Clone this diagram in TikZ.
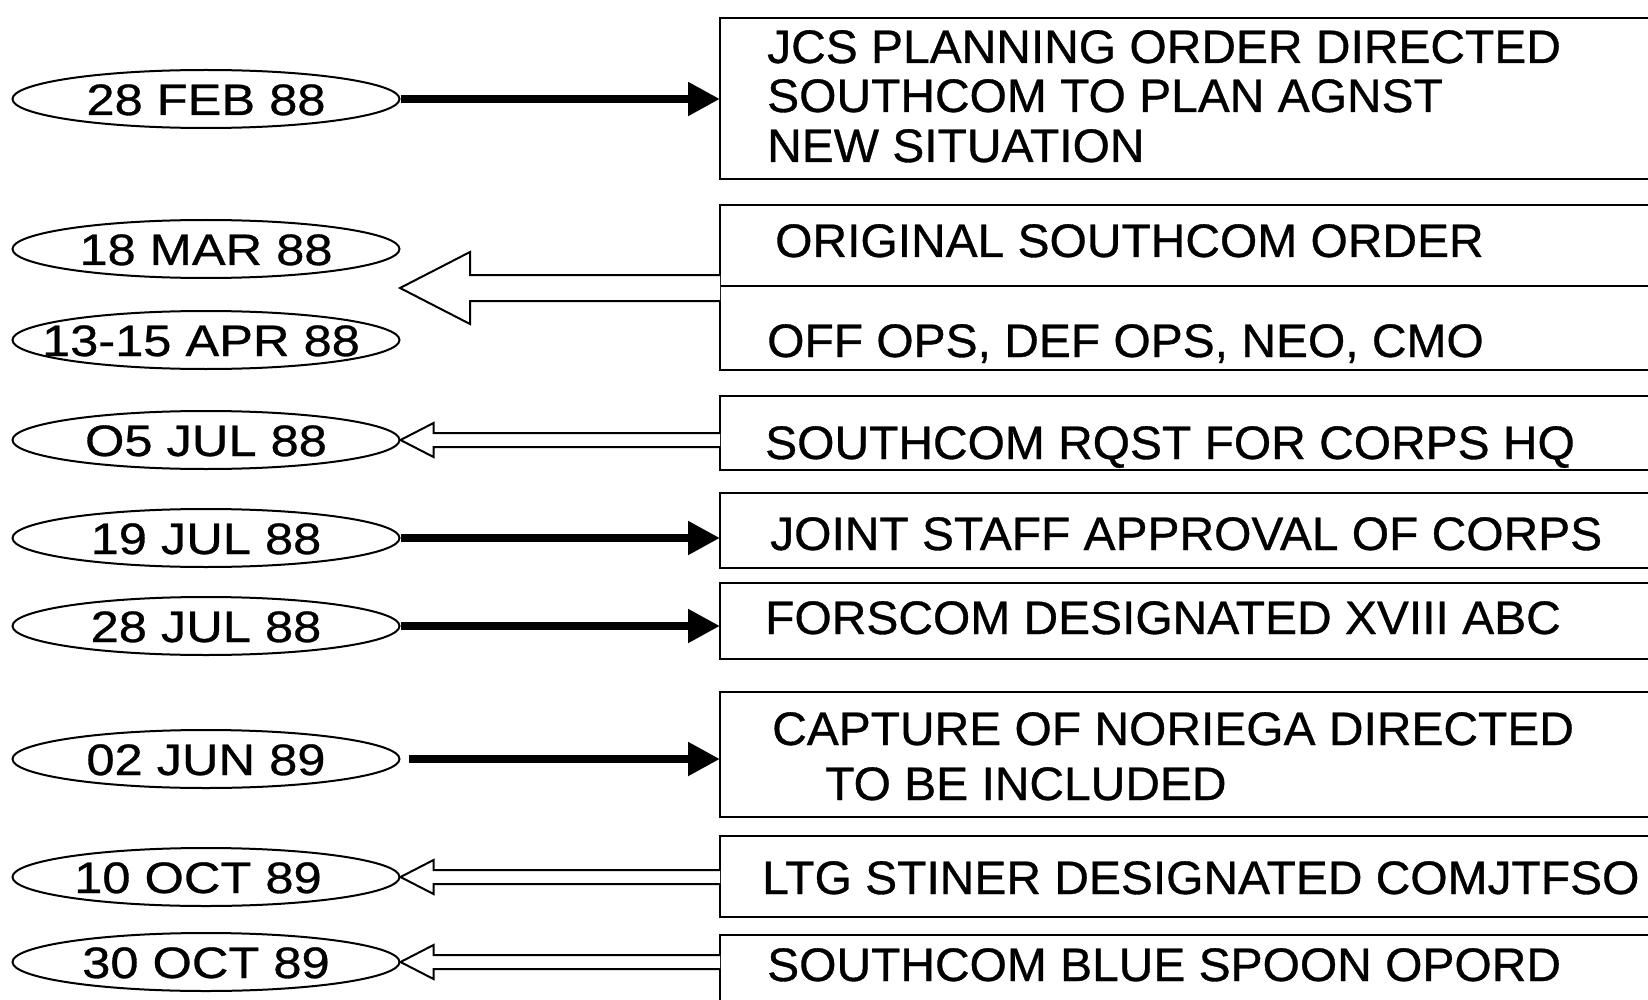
\documentclass[tikz,border=0pt]{standalone}
\usepackage{fontspec}
\setmainfont{Liberation Sans}
\newfontfamily\elfont{Liberation Sans}[FakeStretch=1.15,FakeBold=0.7]
\newfontfamily\bxfont{Liberation Sans}[FakeStretch=1.02,FakeBold=0.7]
\usetikzlibrary{shapes.geometric,arrows.meta,calc}
\begin{document}
\begin{tikzpicture}[x=1pt,y=-1pt,
  datebox/.style={draw,ellipse,line width=2pt,minimum width=387pt,minimum height=58pt,inner sep=0pt},
  datetxt/.style={font=\fontsize{44}{48}\selectfont\elfont,inner sep=0pt,anchor=base},
  evbox/.style={draw,line width=2.6pt},
  evtxt/.style={font=\fontsize{47}{52}\selectfont\bxfont,inner sep=0pt,anchor=base west},
  solidarrow/.style={line width=8pt,-{Triangle[length=32pt,width=32pt]}},
  hollow/.style={line width=2pt,fill=white,line join=miter}]
\clip (0,0) rectangle (1648,1000);
\fill[white] (0,0) rectangle (1648,1000);
% date ellipses
\node[datebox] (e1) at (206,99) {};
\node[datebox] (e2) at (206,249) {};
\node[datebox] (e3) at (206,340) {};
\node[datebox] (e4) at (206,440) {};
\node[datebox] (e5) at (206,538) {};
\node[datebox] (e6) at (206,626) {};
\node[datebox] (e7) at (206,759) {};
\node[datebox] (e8) at (206,877) {};
\node[datebox] (e9) at (206,962) {};
\node[datetxt] (t1) at ($(e1.center)+(0,16)$) {28 FEB 88};
\node[datetxt] (t2) at ($(e2.center)+(0,16)$) {18 MAR 88};
\node[datetxt] (t3) at ($(e3.center)+(-5,16)$) {13-15 APR 88};
\node[datetxt] (t4) at ($(e4.center)+(0,16)$) {O5 JUL 88};
\node[datetxt] (t5) at ($(e5.center)+(0,16)$) {19 JUL 88};
\node[datetxt] (t6) at ($(e6.center)+(0,16)$) {28 JUL 88};
\node[datetxt] (t7) at ($(e7.center)+(0,16)$) {02 JUN 89};
\node[datetxt] (t8) at ($(e8.center)+(-8,16)$) {10 OCT 89};
\node[datetxt] (t9) at ($(e9.center)+(0,16)$) {30 OCT 89};
% event boxes
\draw[evbox] (720,18) rectangle (1700,179);
\draw[evbox] (720,205) rectangle (1700,370);
\draw[evbox] (720,286) -- (1700,286);
\draw[evbox] (720,396) rectangle (1700,470);
\draw[evbox] (720,493) rectangle (1700,568);
\draw[evbox] (720,583) rectangle (1700,659);
\draw[evbox] (720,692) rectangle (1700,817);
\draw[evbox] (720,836) rectangle (1700,917);
\draw[evbox] (720,935) rectangle (1700,1010);
\coordinate (b1) at (720,99);
\coordinate (b2) at (720,288);
\coordinate (b3) at (720,440);
\coordinate (b4) at (720,538);
\coordinate (b5) at (720,626);
\coordinate (b6) at (720,759);
\coordinate (b7) at (720,877);
\coordinate (b8) at (720,962);
% event texts
\node[evtxt] (x1) at (767,63) {JCS PLANNING ORDER DIRECTED};
\node[evtxt] (x2) at (767,112) {SOUTHCOM TO PLAN AGNST};
\node[evtxt] (x3) at (767,162) {NEW SITUATION};
\node[evtxt] (x4) at (775,257) {ORIGINAL SOUTHCOM ORDER};
\node[evtxt] (x5) at (767,357) {OFF OPS, DEF OPS, NEO, CMO};
\node[evtxt] (x6) at (765,459) {SOUTHCOM RQST FOR CORPS HQ};
\node[evtxt] (x7) at (770,550) {JOINT STAFF APPROVAL OF CORPS};
\node[evtxt] (x8) at (765,634) {FORSCOM DESIGNATED XVIII ABC};
\node[evtxt] (x9) at (772,745) {CAPTURE OF NORIEGA DIRECTED};
\node[evtxt] (x10) at (825,800) {TO BE INCLUDED};
\node[evtxt] (x11) at (762,894) {LTG STINER DESIGNATED COMJTFSO};
\node[evtxt] (x12) at (767,981) {SOUTHCOM BLUE SPOON OPORD};
% solid arrows (date -> event)
\draw[solidarrow] (e1.east) -- (b1);
\draw[solidarrow] (e5.east) -- (b4);
\draw[solidarrow] (e6.east) -- (b5);
\draw[solidarrow,shorten <=8pt] (e7.east) -- (b6);
% big hollow arrow (event -> 18 MAR / 13-15 APR)
\coordinate (tipA) at (400,288);
\draw[hollow] (b2|-0,275) -- (470,275) -- (470,252) -- (tipA) -- (470,324) -- (470,301) -- (b2|-0,301);
% small hollow arrows
\draw[hollow] ($(b3)+(0,-7)$) -- ($(e4.east)+(33,-7)$) -- ($(e4.east)+(33,-17)$) -- (e4.east) -- ($(e4.east)+(33,17)$) -- ($(e4.east)+(33,7)$) -- ($(b3)+(0,7)$);
\draw[hollow] ($(b7)+(0,-7)$) -- ($(e8.east)+(33,-7)$) -- ($(e8.east)+(33,-17)$) -- (e8.east) -- ($(e8.east)+(33,17)$) -- ($(e8.east)+(33,7)$) -- ($(b7)+(0,7)$);
\draw[hollow] ($(b8)+(0,-7)$) -- ($(e9.east)+(33,-7)$) -- ($(e9.east)+(33,-17)$) -- (e9.east) -- ($(e9.east)+(33,17)$) -- ($(e9.east)+(33,7)$) -- ($(b8)+(0,7)$);
\end{tikzpicture}
\end{document}
